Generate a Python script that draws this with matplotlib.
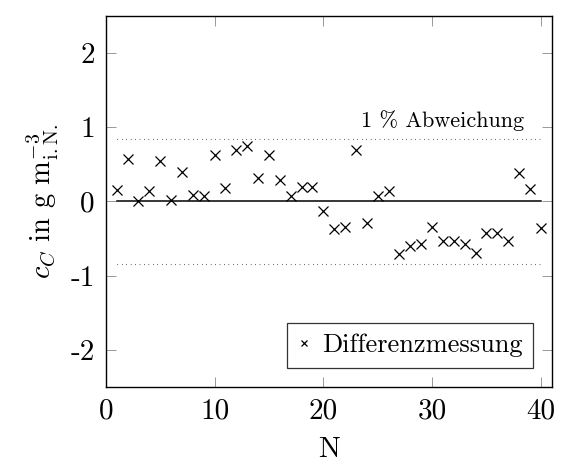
import matplotlib
matplotlib.use("Agg")
import matplotlib.pyplot as plt
import numpy as np

# Data
n = np.arange(1, 41)
diff = [0.16, 0.57, 0.01, 0.14, 0.55, 0.02, 0.40, 0.09, 0.07, 0.62,
        0.18, 0.70, 0.75, 0.32, 0.63, 0.29, 0.08, 0.20, 0.19, -0.13,
        -0.37, -0.34, 0.69, -0.29, 0.08, 0.14, -0.71, -0.60, -0.58, -0.35,
        -0.53, -0.54, -0.57, -0.70, -0.43, -0.43, -0.53, 0.38, 0.17, -0.36]
limit = 0.84
yticks = [-2, -1, 0, 1, 2]
ytick_labels = ["-2", "-1", "0", "1", "2"]
xticks = [0, 10, 20, 30, 40]

plt.rcParams['font.family'] = 'serif'
plt.rcParams['font.serif'] = ['cmr10']
plt.rcParams['mathtext.fontset'] = 'cm'
plt.rcParams['axes.unicode_minus'] = False

fig = plt.figure(figsize=(5.63, 4.62), dpi=100)
ax = fig.add_axes([0.188, 0.163, 0.792, 0.802])

ax.plot([n[0], n[-1]], [0, 0], color='black', lw=1.1)
ax.plot([n[0], n[-1]], [limit, limit], color='black', lw=0.8, ls=(0, (0.5, 3.5)))
ax.plot([n[0], n[-1]], [-limit, -limit], color='black', lw=0.8, ls=(0, (0.5, 3.5)))
ax.plot(n, diff, ls='none', marker='x', color='black', ms=6.5, mew=0.9,
        label='Differenzmessung')

ax.text(31, 1.0, '1 % Abweichung', ha='center', va='baseline', fontsize=16)

ax.set_xlim(0, 41)
ax.set_ylim(-2.5, 2.5)
ax.set_xticks(xticks)
ax.set_xticklabels([str(t) for t in xticks])
ax.set_yticks(yticks)
ax.set_yticklabels(ytick_labels)
ax.tick_params(direction='in', length=7, width=0.6, color='#888888',
               top=True, right=True, labelsize=21, pad=8)
for s in ax.spines.values():
    s.set_linewidth(1.0)

ax.set_xlabel('N', fontsize=21, labelpad=9)
ax.set_ylabel(r'$c_C$ in g m$_{\mathrm{i.N.}}^{-3}$', fontsize=20.5, labelpad=7)

leg = ax.legend(loc='lower right', fontsize=19, frameon=True, fancybox=False,
                edgecolor='black', handlelength=0.5, handletextpad=0.43,
                borderaxespad=0.72, borderpad=0.4, markerscale=0.7)
leg.get_frame().set_linewidth(0.9)

fig.savefig('out.png', dpi=100)
